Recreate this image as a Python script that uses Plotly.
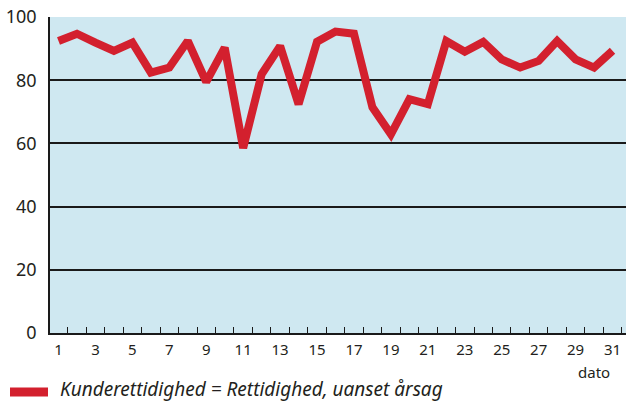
import plotly.graph_objects as go

days = list(range(1, 32))
values = [92.4, 94.7, 91.9, 89.3, 91.9, 82.4, 84.0, 92.4, 79.5, 90.3,
          58.5, 81.9, 90.8, 72.4, 92.2, 95.4, 94.7, 71.4, 62.9, 74.0,
          72.4, 92.4, 89.0, 92.1, 86.6, 84.0, 86.1, 92.4, 86.6, 84.0, 89.3]
x_ticks = list(range(1, 32, 2))
y_ticks = [0, 20, 40, 60, 80, 100]
series_name = "Kunderettidighed = Rettidighed, uanset årsag"
x_title = "dato"

RED = "#d3202e"
TXT = "#231f20"
FONT = "Noto Sans"

fig = go.Figure()
fig.add_trace(go.Scatter(x=days, y=values, mode="lines",
                         line=dict(color=RED, width=8),
                         showlegend=False, hoverinfo="skip"))

fig.update_layout(
    width=626, height=402,
    margin=dict(l=50, r=0, t=17, b=69),
    paper_bgcolor="white",
    plot_bgcolor="#cfe8f1",
    font=dict(family=FONT, color=TXT),
    xaxis=dict(range=[0.54, 31.73], tickvals=x_ticks, ticktext=[str(v) for v in x_ticks],
               ticks="", showgrid=False, zeroline=False,
               showline=True, linecolor="#1a1a1a", linewidth=1.5,
               tickfont=dict(size=15, color=TXT), ticklabelstandoff=2,
               minor=dict(ticks="inside", tick0=0.5, dtick=1, ticklen=6,
                          tickcolor="#1a1a1a", tickwidth=1.2, showgrid=False)),
    yaxis=dict(range=[0, 100], tickvals=y_ticks, ticks="",
               showgrid=True, gridcolor="#1a1a1a", gridwidth=1.5,
               zeroline=False, showline=True, linecolor="#1a1a1a", linewidth=1.5,
               tickfont=dict(size=18, color=TXT), ticklabelstandoff=8),
)

fig.add_annotation(text=x_title, xref="paper", yref="paper", x=(612 - 50) / 576,
                   y=-(372 - 333) / 316, xanchor="right", yanchor="middle",
                   showarrow=False, font=dict(size=15, color=TXT))

# legend swatch and label
fig.add_shape(type="line", xref="paper", yref="paper",
              x0=(10 - 50) / 576, x1=(48 - 50) / 576,
              y0=-(392 - 333) / 316, y1=-(392 - 333) / 316,
              line=dict(color=RED, width=9))
fig.add_annotation(text=series_name, xref="paper", yref="paper",
                   x=(58 - 50) / 576, y=-(389 - 333) / 316,
                   xanchor="left", yanchor="middle", showarrow=False,
                   font=dict(size=19, color=TXT, style="italic"))

fig.write_html("out.html", config={"displayModeBar": False},
               post_script="document.body.style.margin='0';document.body.style.overflow='hidden';")
